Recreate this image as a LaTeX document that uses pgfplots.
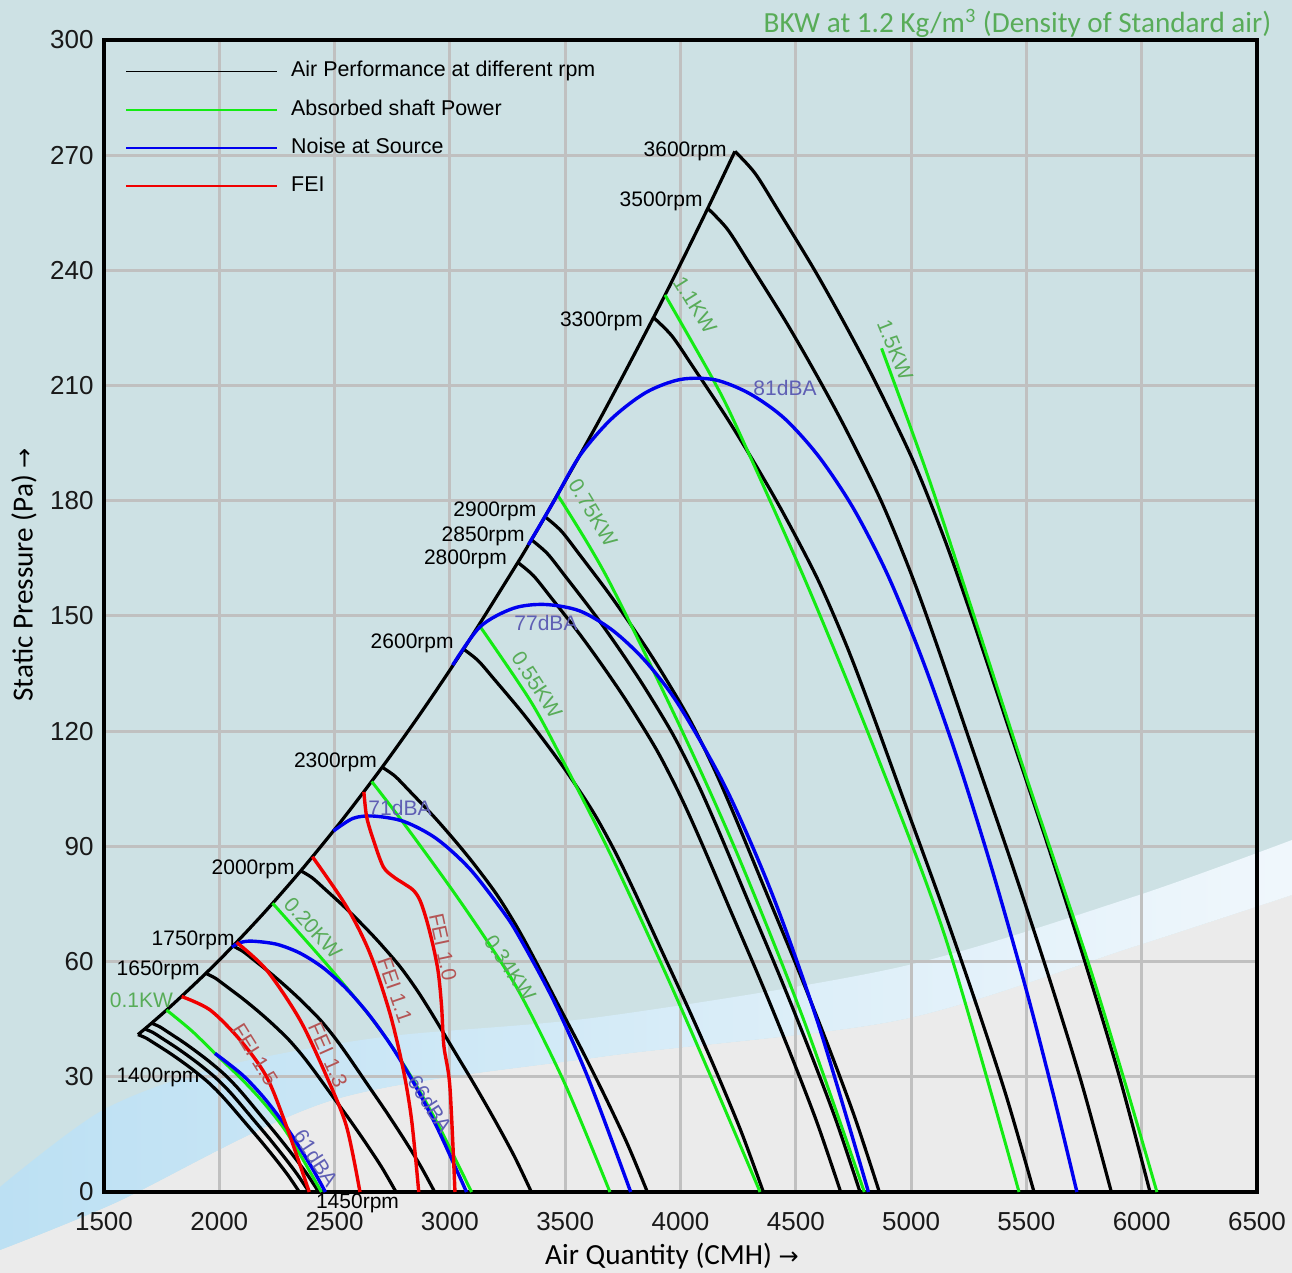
\documentclass[border=0pt]{standalone}
\usepackage{pgfplots}
\pgfplotsset{compat=1.18}
\usepackage{fontspec}
\setmainfont{Liberation Sans}
\newfontfamily\calibri{Carlito}
\newfontfamily\djv{DejaVu Sans}
\definecolor{bgteal}{RGB}{205,225,228}
\definecolor{lowgray}{RGB}{235,235,235}
\definecolor{bandL}{RGB}{188,224,243}
\definecolor{bandR}{RGB}{240,247,252}
\definecolor{gridgray}{RGB}{192,192,192}
\definecolor{lgreen}{RGB}{20,235,20}
\definecolor{lblue}{RGB}{0,0,240}
\definecolor{lred}{RGB}{240,0,0}
\definecolor{tgreen}{RGB}{88,172,88}
\definecolor{tblue}{RGB}{95,95,180}
\definecolor{tred}{RGB}{180,85,85}
\tikzset{lab/.style={font=\fontsize{10.5}{12}\selectfont, inner sep=0pt}}
\begin{document}
\begin{tikzpicture}
\begin{scope}[x=1pt,y=1pt]
\fill[bgteal] (-52,-40.5) rectangle (594,596);
\fill[lowgray] plot[smooth] coordinates {(-52,-29) (5.5,-5.5) (114.5,46) (248,67.5) (398,86) (514.5,122.5) (594,148.5)} -- (594,-40.5) -- (-52,-40.5) -- cycle;
\shade[left color=bandL, right color=bandR] plot[smooth] coordinates {(-52,2.5) (-0.5,41) (58,62.5) (139.5,77.5) (248,87.5) (398,112.5) (514.5,147.5) (594,176)} -- plot[smooth] coordinates {(594,148.5) (514.5,122.5) (398,86) (248,67.5) (114.5,46) (5.5,-5.5) (-52,-29)} -- cycle;
\end{scope}
\useasboundingbox (-52pt,-40.5pt) rectangle (594pt,596pt);
\begin{axis}[
  at={(0pt,0pt)}, anchor=south west,
  scale only axis, width=576.5pt, height=576pt,
  xmin=1500, xmax=6500, ymin=0, ymax=300,
  xtick={1500,2000,...,6500}, ytick={0,30,...,300},
  grid=major, grid style={draw=gridgray, line width=1.5pt},
  axis line style={line width=2pt, black},
  major tick length=0pt,
  /pgf/number format/1000 sep={},
  /pgf/number format/assume math mode=true,
  tick label style={font=\fontsize{13}{13}\selectfont, text=black!90},
  xticklabel style={yshift=-6.5pt},
  yticklabel style={xshift=-1.7pt},
  xlabel={Air Quantity (CMH) {\djv\fontsize{12}{14}\selectfont →}},
  ylabel={Static Pressure (Pa) {\djv\fontsize{12}{14}\selectfont →}},
  xlabel style={at={(axis description cs:0.4926,-0.0556)}, anchor=center, font=\calibri\fontsize{14.6}{16}\selectfont},
  ylabel style={at={(axis description cs:-0.0694,0.5356)}, anchor=center, font=\calibri\fontsize{14.6}{16}\selectfont},
  clip=false,
  legend cell align=left,
  legend image code/.code={\draw[#1] (0pt,0pt) -- (75.5pt,0pt);},
  legend style={at={(axis description cs:0.0182,0.9822)}, anchor=north west, draw=none, fill=none, inner sep=0pt,
    font=\fontsize{10.7}{12}\selectfont, row sep=8.63pt,
    nodes={inner sep=0pt, text height=8pt, text depth=2.5pt},
    /tikz/every odd column/.append style={column sep=6.5pt}},
  rpm/.style={black, line width=1.6pt, smooth, no markers, forget plot, line join=round},
  pwr/.style={lgreen, line width=1.5pt, smooth, no markers, forget plot},
  noise/.style={lblue, line width=1.7pt, smooth, no markers, forget plot},
  fei/.style={lred, line width=1.7pt, smooth, no markers, forget plot},
]
\addlegendimage{black, line width=0.7pt}\addlegendentry{Air Performance at different rpm}
\addlegendimage{lgreen, line width=0.9pt}\addlegendentry{Absorbed shaft Power}
\addlegendimage{lblue, line width=0.7pt}\addlegendentry{Noise at Source}
\addlegendimage{lred, line width=0.7pt}\addlegendentry{FEI}

% surge boundary
\addplot[rpm] coordinates {(1647.3,40.98) (1706.2,43.96) (1800,48.93) (1941.5,56.93) (2059.2,64.04) (2200,73.10) (2353.3,83.64) (2530,96.67) (2706.3,110.62) (2880,125.27) (3059.3,141.36) (3294.7,163.94) (3353.5,169.85) (3412.3,175.86) (3650,201.21) (3883,227.72) (4000,241.65) (4118.3,256.15) (4236,271)};
% rpm curves
\addplot[rpm] coordinates {(1647.3,40.98) (1681.2,40.12) (1718.9,38.72) (1781.9,36.30) (1836.3,34.03) (1887.3,31.76) (1949.1,28.73) (2000.8,25.71) (2046.3,22.69) (2110.9,18.15) (2175.6,13.61) (2237.5,9.07) (2295.8,4.54) (2347.3,0)};
\addplot[rpm] coordinates {(1676.8,42.46) (1711.2,41.57) (1749.6,40.11) (1813.7,37.60) (1869.1,35.25) (1921.0,32.90) (1983.9,29.77) (2036.6,26.64) (2082.9,23.50) (2148.6,18.80) (2214.5,14.10) (2277.4,9.40) (2336.8,4.70) (2389.3,0)};
\addplot[rpm] coordinates {(1706.2,43.96) (1741.2,43.04) (1780.3,41.53) (1845.5,38.94) (1901.9,36.50) (1954.7,34.07) (2018.7,30.82) (2072.3,27.58) (2119.4,24.33) (2186.3,19.47) (2253.3,14.60) (2317.4,9.73) (2377.8,4.87) (2431.2,0)};
\addplot[rpm] coordinates {(1941.5,56.93) (1981.4,55.73) (2025.8,53.78) (2100.1,50.42) (2164.3,47.27) (2224.3,44.11) (2297.2,39.91) (2358.1,35.71) (2411.8,31.51) (2487.8,25.21) (2564.1,18.91) (2637.0,12.60) (2705.8,6.30) (2766.5,0)};
\addplot[rpm] coordinates {(2059.2,64.04) (2101.5,62.69) (2148.6,60.49) (2227.4,56.71) (2295.4,53.17) (2359.1,49.62) (2436.4,44.90) (2501.0,40.17) (2557.9,35.45) (2638.6,28.36) (2719.5,21.27) (2796.8,14.18) (2869.8,7.09) (2934.2,0)};
\addplot[rpm] coordinates {(2353.3,83.64) (2401.7,81.88) (2455.6,79.01) (2545.6,74.07) (2623.3,69.44) (2696.1,64.81) (2784.4,58.64) (2858.3,52.47) (2923.3,46.30) (3015.6,37.04) (3108.1,27.78) (3196.4,18.52) (3279.7,9.26) (3353.3,0)};
\addplot[rpm] coordinates {(2706.3,110.62) (2761.9,108.29) (2823.9,104.49) (2927.4,97.96) (3016.8,91.84) (3100.5,85.72) (3202.1,77.55) (3287.1,69.39) (3361.8,61.23) (3467.9,48.98) (3574.3,36.74) (3675.8,24.49) (3771.7,12.25) (3856.3,0)};
\addplot[rpm] coordinates {(3059.3,141.36) (3122.2,138.38) (3192.2,133.53) (3309.2,125.19) (3410.3,117.36) (3505.0,109.54) (3619.8,99.10) (3715.8,88.67) (3800.3,78.24) (3920.2,62.59) (4040.5,46.94) (4155.3,31.30) (4263.6,15.65) (4359.3,0)};
\addplot[rpm] coordinates {(3294.7,163.94) (3362.3,160.49) (3437.8,154.86) (3563.8,145.19) (3672.7,136.11) (3774.6,127.04) (3898.2,114.94) (4001.7,102.84) (4092.7,90.74) (4221.8,72.59) (4351.3,54.44) (4474.9,36.30) (4591.6,18.15) (4694.7,0)};
\addplot[rpm] coordinates {(3353.5,169.85) (3422.4,166.27) (3499.2,160.44) (3627.4,150.42) (3738.3,141.02) (3842.0,131.61) (3967.8,119.08) (4073.1,106.55) (4165.8,94.01) (4297.2,75.21) (4429.0,56.41) (4554.9,37.60) (4673.6,18.80) (4778.5,0)};
\addplot[rpm] coordinates {(3412.3,175.86) (3482.4,172.16) (3560.6,166.12) (3691.1,155.74) (3803.8,146.01) (3909.4,136.27) (4037.4,123.29) (4144.6,110.32) (4238.8,97.34) (4372.6,77.87) (4506.7,58.40) (4634.8,38.94) (4755.6,19.47) (4862.3,0)};
\addplot[rpm] coordinates {(3883.0,227.72) (3962.8,222.93) (4051.7,215.11) (4200.2,201.67) (4328.5,189.06) (4448.6,176.46) (4594.3,159.65) (4716.3,142.85) (4823.5,126.04) (4975.7,100.83) (5128.3,75.63) (5274.0,50.42) (5411.5,25.21) (5533.0,0)};
\addplot[rpm] coordinates {(4118.3,256.15) (4202.9,250.77) (4297.2,241.98) (4454.7,226.85) (4590.8,212.67) (4718.2,198.50) (4872.8,179.59) (5002.1,160.69) (5115.8,141.78) (5277.2,113.43) (5439.1,85.07) (5593.7,56.71) (5739.5,28.36) (5868.3,0)};
\addplot[rpm] coordinates {(4236,271) (4323,265.3) (4420,256) (4582,240) (4722,225) (4853,210) (5012,190) (5145,170) (5262,150) (5428,120) (5594.5,90) (5753.5,60) (5903.5,30) (6036,0)};

% absorbed power
\addplot[pwr] coordinates {(1771,47.4) (1880,42) (1981,36.1) (2100,29.2) (2200,22.7) (2300,14.8) (2443,0)};
\addplot[pwr] coordinates {(2231,75.2) (2350,67.2) (2450,60.4) (2552,53.2) (2650,46.0) (2750,37.8) (2850,28.2) (2950,17.4) (3094,0)};
\addplot[pwr] coordinates {(2661,106.9) (2800,96) (3000,79.5) (3160,65.5) (3304,51.7) (3500,28) (3694,0)};
\addplot[pwr] coordinates {(3127,147.6) (3347,128.1) (3485,112.9) (3700,87.5) (3950,55) (4150,27.5) (4345,0)};
\addplot[pwr] coordinates {(3467,181.5) (3680,160.2) (3998,121.2) (4250,87.5) (4530,45.5) (4797,0)};
\addplot[pwr] coordinates {(3933,233.6) (4142,211.5) (4250,198.4) (4550,158) (4850,114) (5150,66) (5468,0)};
\addplot[pwr] coordinates {(4872,219.7) (5002,198.4) (5104,181) (5300,145) (5500,108) (5767,60) (5930,28) (6066,0)};

% noise
\addplot[noise] coordinates {(1981,36.1) (2100,30.5) (2200,24.1) (2300,16.1) (2400,6.5) (2460,0)};
\addplot[noise] coordinates {(2054,63.9) (2100,65.1) (2150,65.3) (2250,64.5) (2350,62.2) (2450,58.4) (2550,53.0) (2650,46.1) (2750,37.7) (2850,27.7) (2950,16.1) (3072,0)};
\addplot[noise] coordinates {(2495,94.0) (2580,97.3) (2668,97.9) (2800,96.5) (2942,92.0) (3087,84.1) (3232,72.9) (3304,66.1) (3450,49.8) (3600,29.6) (3784,0)};
\addplot[noise] coordinates {(3012,137.2) (3131,147.2) (3275,152) (3412,153) (3564,151.3) (3709,146.1) (3853,137.9) (3998,126.3) (4200,104.8) (4400,77.2) (4600,43.3) (4815,0)};
\addplot[noise] coordinates {(3340,168.5) (3450,179.8) (3564,191.8) (3700,201.3) (3850,208.2) (4000,211.6) (4150,211.5) (4300,207.9) (4450,201.5) (4600,191.5) (4750,178) (4900,160.5) (5050,138.5) (5200,113) (5350,84.2) (5500,52.5) (5620,24.6) (5719,0)};

% FEI
\addplot[fei] coordinates {(1837,50.9) (1960,47.4) (2090,39.6) (2205,30.0) (2292,17.0) (2390,0)};
\addplot[fei] coordinates {(2075,65.0) (2205,57.8) (2350,44.8) (2466,30) (2552,17) (2610,0)};
\addplot[fei] coordinates {(2404,87.3) (2552,74.3) (2653,62.2) (2740,46.5) (2798,31.8) (2834,18.75) (2865,0)};
\addplot[fei] coordinates {(2627,104.2) (2639,97.7) (2668,91.7) (2711,84.7) (2755,82.1) (2798,80.4) (2841,78.6) (2870,76.0) (2899,70.8) (2928,63.9) (2950,57.0) (2964,48.3) (2974,38) (3000,27.4) (3022,0)};

% rpm labels
\node[lab, anchor=east] at (axis cs:4201.6,271.1) {3600rpm};
\node[lab, anchor=east] at (axis cs:4097.6,258.1) {3500rpm};
\node[lab, anchor=east] at (axis cs:3838.7,226.6) {3300rpm};
\node[lab, anchor=east] at (axis cs:3376.4,177.2) {2900rpm};
\node[lab, anchor=east] at (axis cs:3325.7,170.8) {2850rpm};
\node[lab, anchor=east] at (axis cs:3248.9,164.8) {2800rpm};
\node[lab, anchor=east] at (axis cs:3017.8,143.0) {2600rpm};
\node[lab, anchor=east] at (axis cs:2685.2,111.8) {2300rpm};
\node[lab, anchor=east] at (axis cs:2328.3,84.1) {2000rpm};
\node[lab, anchor=east] at (axis cs:2068.1,65.6) {1750rpm};
\node[lab, anchor=east] at (axis cs:1916.3,57.8) {1650rpm};
\node[lab] at (axis cs:1734.2,29.9) {1400rpm};
\node[lab] at (axis cs:2599.3,-2.86) {1450rpm};
% power labels
\node[lab, anchor=east, text=tgreen] at (axis cs:1800.5,50.0) {0.1KW};
\node[lab, text=tgreen, rotate=-48] at (axis cs:2406.3,68.75) {0.20KW};
\node[lab, text=tgreen, rotate=-56] at (axis cs:3260.6,58.3) {0.34KW};
\node[lab, text=tgreen, rotate=-57] at (axis cs:3377.7,132.0) {0.55KW};
\node[lab, text=tgreen, rotate=-59] at (axis cs:3620.6,176.8) {0.75KW};
\node[lab, text=tgreen, rotate=-58] at (axis cs:4062.9,231.0) {1.1KW};
\node[lab, text=tgreen, rotate=-68] at (axis cs:4930.2,219.3) {1.5KW};
% noise labels
\node[lab, text=tblue, rotate=-57] at (axis cs:2419.3,8.85) {61dBA};
\node[lab, text=tblue, rotate=-57] at (axis cs:2913.7,22.9) {66dBA};
\node[lab, text=tblue] at (axis cs:2783.6,100.1) {71dBA};
\node[lab, text=tblue] at (axis cs:3416.7,148.2) {77dBA};
\node[lab, text=tblue] at (axis cs:4453.2,209.4) {81dBA};
% FEI labels
\node[lab, text=tred, rotate=-58] at (axis cs:2154.8,35.7) {FEI 1.5};
\node[lab, text=tred, rotate=-66] at (axis cs:2471.4,35.7) {FEI 1.3};
\node[lab, text=tred, rotate=-71] at (axis cs:2761.9,52.6) {FEI 1.1};
\node[lab, text=tred, rotate=-78] at (axis cs:2970.1,63.8) {FEI 1.0};
% title
\node[anchor=base east, text=tgreen, font=\calibri\fontsize{14.6}{16}\selectfont, inner sep=0pt] at (axis description cs:1.0127,1.0061) {BKW at 1.2 Kg/m\textsuperscript{3} (Density of Standard air)};
\end{axis}
\end{tikzpicture}
\end{document}
